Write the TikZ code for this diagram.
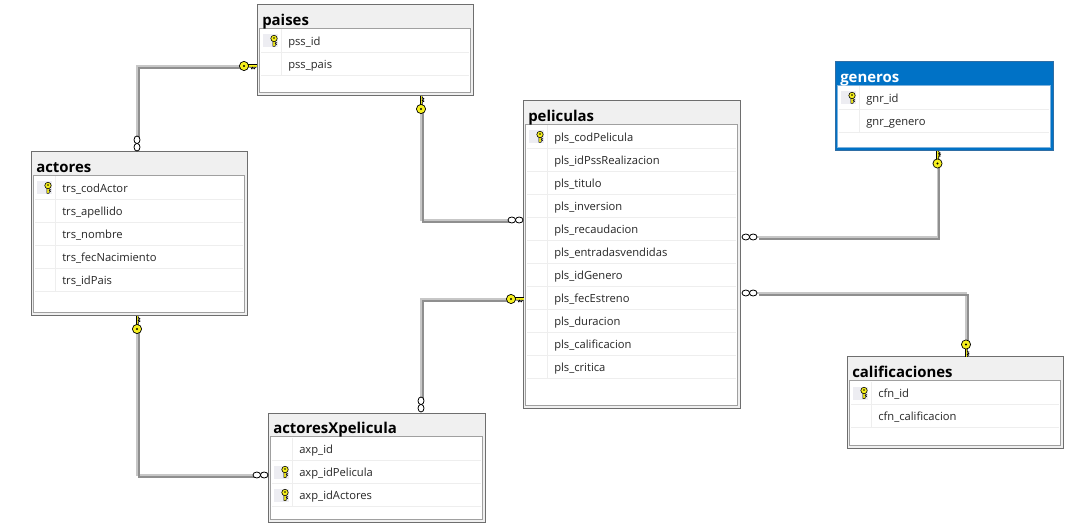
\documentclass[tikz,border=0pt]{standalone}
\usepackage{fontspec}
\setmainfont{Open Sans}
\usetikzlibrary{positioning,calc}
\definecolor{boxgray}{HTML}{F0F0F0}
\definecolor{boxedge}{HTML}{6E6E6E}
\definecolor{inneredge}{HTML}{A0A0A0}
\definecolor{rowline}{HTML}{EEEEEE}
\definecolor{keycell}{HTML}{EDEDF2}
\definecolor{keyyellow}{HTML}{F6F01E}
\definecolor{selblue}{HTML}{0072C6}
\definecolor{seledge}{HTML}{2F6EA5}
\definecolor{selinner}{HTML}{7FB2DC}
\newcommand{\px}{.75pt}
\tikzset{
  tablebox/.style={draw=boxedge, fill=boxgray, line width=1*\px, anchor=north west, inner sep=0pt, outer sep=0pt},
  tablebox-in/.style={draw=inneredge, line width=1*\px},
  selbox/.style={tablebox, draw=seledge, fill=selblue},
  selbox-in/.style={draw=selinner, line width=1*\px},
  tabletitle/.style={anchor=base west, inner sep=0pt, font=\bfseries\fontsize{11.2}{13}\selectfont},
  rowtext/.style={anchor=base west, inner sep=0pt, font=\fontsize{8.4}{10}\selectfont, text=black!85},
  relline/.style={draw=black!22, line width=2*\px, postaction={draw=black!44, transform canvas={xshift=1.8*\px, yshift=-1.8*\px}}},
  relkey/.pic={
    \fill[keyyellow] (3,-1.2) rectangle (12.5,1.2);
    \draw[black, line width=.6*\px] (4,1.2) -- (12.5,1.2);
    \draw[black, line width=.6*\px] (4,-1.2) -- (7,-1.2) -- (7.5,-2.8) -- (8.5,-1.2) -- (9,-2.8) -- (10,-1.2) -- (10.5,-2.8) -- (11.5,-1.2) -- (12.5,-1.2);
    \draw[black, fill=keyyellow, line width=.7*\px] (0,0) circle (4.6);
    \fill[black] (0,0) circle (1.1);
  },
  reloo/.pic={
    \draw[black, fill=white, line width=.8*\px] (3.8,0) ellipse (3.8 and 3);
    \draw[black, fill=white, line width=.8*\px] (11.2,0) ellipse (3.8 and 3);
  },
  rowkey/.pic={
    \fill[keyyellow] (-1.2,-5.5) rectangle (1.2,1);
    \draw[black, line width=.5*\px] (-1.2,-5.5) -- (1.2,-5.5) (-1.2,1) -- (-1.2,-5.5) (1.2,1) -- (1.2,-1) -- (2.6,-1.8) -- (1.2,-2.6) -- (2.6,-3.4) -- (1.2,-4.2) -- (1.2,-5.5);
    \draw[black, fill=keyyellow, line width=.6*\px] (0,2.5) circle (3.2);
    \fill[black] (0,3) circle (.8);
  }
}
% table frame: name, left, top, width, height, title
\newcommand{\dbtable}[7][tablebox]{
  \node[#1, minimum width=#5*\px, minimum height=#6*\px] (#2) at (#3,-#4) {};
  \draw[#1-in, fill=white] ($(#2.north west)+(2.5*\px,-23.5*\px)$) rectangle ($(#2.south east)+(-3*\px,3*\px)$);
  \node[tabletitle] (#2-title) at ($(#2.north west)+(5*\px,-20.5*\px)$) {#7};
}
% table row: table, row number, key flag, text
\newcommand{\dbrow}[4]{
  \coordinate (#1-r#2) at ($(#1.north west)+(0,-36*\px-#2*23*\px+23*\px)$);
  \draw[rowline, line width=1*\px] ($(#1-r#2)+(4*\px,-11.5*\px)$) -- ($(#1-r#2 -| #1.east)+(-4*\px,-11.5*\px)$);
  \draw[rowline, line width=1*\px] ($(#1-r#2)+(24*\px,11.5*\px)$) -- ($(#1-r#2)+(24*\px,-11.5*\px)$);
  \ifnum#3=1
    \fill[keycell] ($(#1-r#2)+(6*\px,6.5*\px)$) rectangle ($(#1-r#2)+(21*\px,-6.5*\px)$);
    \pic at ($(#1-r#2)+(17*\px,0)$) {rowkey};
  \fi
  \node[rowtext] (#1-t#2) at ($(#1-r#2)+(31*\px,-4.5*\px)$) {#4};
}
\begin{document}
\begin{tikzpicture}[x=.75pt,y=.75pt]
\useasboundingbox[fill=white] (0,0) rectangle (1080,-530);

% connector ends
\coordinate (keyPaisA) at (244,-66);
\coordinate (ooActorA) at (137,-136);
\coordinate (keyPaisB) at (421,-109);
\coordinate (ooPeliA) at (508,-220);
\coordinate (keyPeliB) at (511,-299);
\coordinate (ooAxpB) at (421,-397);
\coordinate (keyActorC) at (137,-329);
\coordinate (ooAxpC) at (253,-475);
\coordinate (keyGenero) at (937.5,-163.5);
\coordinate (ooPeliG) at (757,-237);
\coordinate (keyCalif) at (966,-344.5);
\coordinate (ooPeliC) at (757,-293);

% relations
\draw[relline] (keyPaisA) -| (ooActorA);
\draw[relline] (keyPaisB) |- (ooPeliA);
\draw[relline] (keyPeliB) -| (ooAxpB);
\draw[relline] (keyActorC) |- (ooAxpC);
\draw[relline] (keyGenero) |- (ooPeliG);
\draw[relline] (keyCalif) |- (ooPeliC);

% tables
\dbtable{paises}{257}{5}{216}{91}{paises}
\dbrow{paises}{1}{1}{pss\_id}
\dbrow{paises}{2}{0}{pss\_pais}

\dbtable{actores}{31}{152}{216}{164}{actores}
\dbrow{actores}{1}{1}{trs\_codActor}
\dbrow{actores}{2}{0}{trs\_apellido}
\dbrow{actores}{3}{0}{trs\_nombre}
\dbrow{actores}{4}{0}{trs\_fecNacimiento}
\dbrow{actores}{5}{0}{trs\_idPais}

\dbtable{peliculas}{523}{101}{217}{307}{peliculas}
\foreach \n/\k/\t in {1/1/pls\_codPelicula,2/0/pls\_idPssRealizacion,3/0/pls\_titulo,4/0/pls\_inversion,5/0/pls\_recaudacion,6/0/pls\_entradasvendidas,7/0/pls\_idGenero,8/0/pls\_fecEstreno,9/0/pls\_duracion,10/0/pls\_calificacion,11/0/pls\_critica}
  {\dbrow{peliculas}{\n}{\k}{\t}}

\dbtable[selbox]{generos}{835}{62}{218}{89}{\textcolor{white}{generos}}
\dbrow{generos}{1}{1}{gnr\_id}
\dbrow{generos}{2}{0}{gnr\_genero}

\dbtable{calif}{847}{357}{216}{91}{calificaciones}
\dbrow{calif}{1}{1}{cfn\_id}
\dbrow{calif}{2}{0}{cfn\_calificacion}

\dbtable{axp}{268}{413}{217}{109}{actoresXpelicula}
\dbrow{axp}{1}{0}{axp\_id}
\dbrow{axp}{2}{1}{axp\_idPelicula}
\dbrow{axp}{3}{1}{axp\_idActores}

% line ends
\pic at (keyPaisA) {relkey};
\pic[rotate=-90] at (ooActorA) {reloo};
\pic[rotate=90] at (keyPaisB) {relkey};
\pic at (ooPeliA) {reloo};
\pic at (keyPeliB) {relkey};
\pic[rotate=-90] at (ooAxpB) {reloo};
\pic[rotate=90] at (keyActorC) {relkey};
\pic at (ooAxpC) {reloo};
\pic[rotate=90] at (keyGenero) {relkey};
\pic[rotate=180] at (ooPeliG) {reloo};
\pic[rotate=-90, yscale=-1] at (keyCalif) {relkey};
\pic[rotate=180] at (ooPeliC) {reloo};
\end{tikzpicture}
\end{document}
